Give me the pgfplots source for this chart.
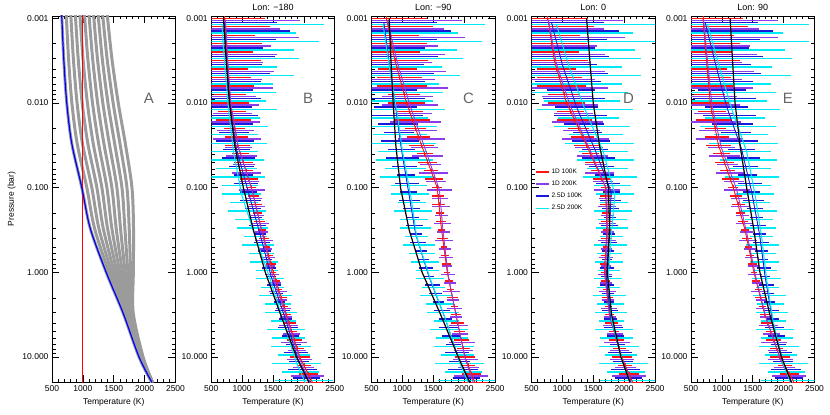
\documentclass[border=0pt]{standalone}
\usepackage{fontspec}
\setmainfont{Liberation Sans}
\usepackage{pgfplots}
\usepackage{pgfplotstable}
\pgfplotsset{compat=1.18}
\definecolor{cR}{RGB}{255,20,20}
\definecolor{cP}{RGB}{140,60,235}
\definecolor{cB}{RGB}{25,25,215}
\definecolor{cC}{RGB}{0,235,245}
\definecolor{gA}{RGB}{155,155,155}

\pgfplotstableread{
p er ep eb ec kB rB pB bB cB kC rC pC bC cC kD rD pD bD cD kE rE pE bE cE
0.001 650 1208 855 1650 698 720 730 710 672 786 743 760 700 689 1392 765 775 824 905 1133 693 705 730 768
0.001259 727 882 1063 1190 707 728 738 718 682 792 770 792 718 709 1403 786 800 859 946 1141 704 718 764 806
0.001585 478 1183 822 1560 716 736 746 726 691 798 798 824 736 729 1413 807 825 894 987 1149 716 731 798 845
0.001995 570 714 606 1140 724 744 754 734 701 803 825 856 754 750 1424 828 850 930 1028 1157 727 744 832 883
0.002512 427 809 798 1210 733 752 762 742 710 809 853 888 772 770 1434 849 875 965 1069 1165 739 757 866 922
0.003162 538 560 567 850 742 760 770 750 720 815 880 920 790 790 1445 870 900 1000 1110 1173 750 770 900 960
0.003981 318 743 698 1116 753 770 780 761 732 822 918 960 810 813 1456 910 944 1046 1161 1181 762 784 936 1000
0.005012 366 533 534 751 763 780 790 772 744 829 955 1000 830 836 1467 949 989 1092 1212 1189 774 798 972 1040
0.006310 401 699 389 792 774 790 800 783 756 837 993 1041 850 859 1478 989 1033 1138 1263 1197 787 812 1008 1080
0.007943 257 411 504 612 784 800 810 794 768 844 1030 1081 870 882 1489 1028 1078 1184 1314 1205 799 826 1044 1120
0.01 297 452 351 780 795 810 820 805 780 851 1068 1121 890 905 1500 1068 1122 1230 1365 1213 811 840 1080 1160
0.01259 225 317 432 487 812 834 844 826 796 860 1117 1169 909 925 1520 1133 1184 1289 1424 1229 838 870 1128 1208
0.01585 288 416 330 613 829 858 868 847 812 868 1165 1217 928 944 1540 1198 1245 1349 1484 1245 865 900 1176 1256
0.01995 168 295 240 435 846 882 892 868 828 877 1214 1264 947 964 1560 1262 1307 1408 1543 1262 891 930 1225 1305
0.02512 190 382 311 559 863 906 916 889 844 885 1262 1312 966 983 1580 1327 1368 1468 1603 1278 918 960 1273 1353
0.03162 204 221 216 399 880 930 940 910 860 894 1311 1360 985 1003 1600 1392 1430 1527 1662 1294 945 990 1321 1401
0.03981 133 252 266 462 908 974 984 948 886 909 1362 1408 1008 1028 1629 1454 1488 1580 1700 1315 993 1040 1353 1428
0.05012 156 176 204 333 936 1018 1028 986 912 924 1412 1456 1031 1054 1658 1515 1546 1632 1737 1337 1041 1090 1385 1455
0.06310 115 230 149 437 964 1062 1072 1024 938 940 1463 1504 1054 1079 1687 1577 1604 1685 1775 1358 1090 1140 1418 1481
0.07943 143 162 193 293 992 1106 1116 1062 964 955 1513 1552 1077 1105 1716 1638 1662 1737 1812 1380 1138 1190 1450 1508
0.1 80 208 135 308 1020 1150 1160 1100 990 970 1564 1600 1100 1130 1745 1700 1720 1790 1850 1401 1186 1240 1482 1535
0.1259 94 128 170 228 1053 1184 1192 1138 1034 998 1578 1612 1123 1150 1749 1704 1722 1784 1838 1425 1224 1272 1508 1557
0.1585 106 149 134 307 1085 1217 1224 1176 1078 1026 1592 1624 1146 1170 1753 1708 1724 1778 1826 1448 1262 1304 1533 1578
0.1995 70 106 101 232 1118 1251 1256 1214 1122 1054 1607 1636 1169 1190 1757 1712 1726 1772 1814 1472 1299 1336 1559 1600
0.2512 84 143 136 255 1150 1284 1288 1252 1166 1082 1621 1648 1192 1210 1761 1716 1728 1766 1802 1495 1337 1368 1584 1621
0.3162 63 104 99 187 1183 1318 1320 1290 1210 1110 1635 1660 1215 1230 1765 1720 1730 1760 1790 1519 1375 1400 1610 1643
0.3981 85 146 128 262 1221 1355 1354 1326 1258 1152 1653 1676 1258 1274 1757 1712 1723 1750 1780 1538 1404 1428 1628 1659
0.5012 53 93 104 203 1260 1393 1388 1362 1307 1194 1672 1692 1301 1318 1750 1704 1716 1740 1770 1558 1433 1456 1646 1675
0.6310 64 111 81 229 1298 1430 1422 1398 1355 1236 1690 1708 1344 1362 1742 1696 1709 1730 1760 1577 1461 1484 1664 1691
0.7943 74 82 113 180 1337 1468 1456 1434 1404 1278 1709 1724 1387 1406 1735 1688 1702 1720 1750 1597 1490 1512 1682 1707
1 51 115 86 231 1375 1505 1490 1470 1452 1320 1727 1740 1430 1450 1727 1680 1695 1710 1740 1616 1519 1540 1700 1723
1.259 69 94 119 184 1425 1548 1535 1516 1495 1380 1755 1767 1483 1502 1741 1696 1710 1725 1752 1648 1554 1574 1723 1744
1.585 59 140 103 266 1475 1591 1580 1562 1538 1440 1783 1794 1536 1554 1755 1712 1725 1740 1764 1680 1590 1608 1746 1766
1.995 86 95 86 217 1524 1634 1625 1608 1581 1500 1811 1821 1589 1606 1769 1728 1740 1755 1776 1713 1625 1642 1769 1787
2.512 58 122 128 257 1574 1677 1670 1654 1624 1560 1839 1848 1642 1658 1783 1744 1755 1770 1788 1745 1661 1676 1792 1809
3.162 75 96 104 204 1624 1720 1715 1700 1667 1620 1867 1875 1695 1710 1797 1760 1770 1785 1800 1777 1696 1710 1815 1830
3.981 103 154 154 310 1675 1763 1758 1743 1710 1677 1896 1904 1741 1754 1827 1800 1809 1823 1837 1815 1744 1757 1849 1862
5.012 82 133 141 262 1726 1806 1801 1786 1753 1734 1925 1933 1787 1799 1857 1840 1848 1861 1874 1852 1793 1804 1883 1894
6.310 119 211 123 323 1778 1849 1844 1829 1796 1791 1955 1962 1833 1843 1888 1880 1887 1899 1911 1890 1841 1851 1917 1927
7.943 107 150 192 265 1829 1892 1887 1872 1839 1848 1984 1991 1879 1888 1918 1920 1926 1937 1948 1927 1890 1898 1951 1959
10 163 200 162 396 1880 1935 1930 1915 1882 1905 2013 2020 1925 1932 1948 1960 1965 1975 1985 1965 1938 1945 1985 1991
12.59 114 170 240 306 1948 2003 1993 1980 1945 1968 2067 2067 1985 1991 1997 2020 2020 2025 2035 2019 2015 2013 2037 2045
15.85 157 273 220 468 2017 2072 2057 2045 2007 2031 2121 2113 2045 2051 2046 2080 2075 2075 2085 2072 2093 2082 2088 2098
19.95 204 234 192 399 2085 2140 2120 2110 2070 2094 2175 2160 2105 2110 2095 2140 2130 2125 2135 2126 2170 2150 2140 2152
}\dat

\pgfplotstableread{
p g0 g1 g2 g3 g4 g5 g6 g7 g8 g9 g10
0.0009 657 731 804 878 952 1026 1099 1173 1247 1320 1394
0.003 690 768 846 924 1002 1080 1158 1236 1314 1392 1470
0.01 739 822 906 989 1073 1156 1239 1323 1406 1490 1573
0.03 820 907 993 1080 1167 1254 1340 1427 1514 1600 1687
0.1 983 1064 1145 1227 1308 1389 1470 1551 1633 1714 1795
0.3 1118 1188 1258 1329 1399 1469 1539 1609 1680 1750 1820
1 1378 1422 1466 1510 1554 1598 1641 1685 1729 1773 1817
3 1650 1667 1683 1700 1716 1733 1749 1766 1782 1799 1815
10 1910 1917 1923 1930 1936 1943 1949 1956 1962 1969 1975
20 2120 2121 2122 2123 2124 2125 2126 2127 2128 2129 2130
}\datA

\pgfplotsset{
  myaxis/.style={
    width=123.5pt, height=366pt, scale only axis, anchor=south west,
    xmin=500, xmax=2500, ymin=0.00094, ymax=19.7, y dir=reverse,
    xtick={500,1000,1500,2000,2500}, xticklabels={500,1000,1500,2000,2500},
    minor x tick num=4,
    ytick={0.001,0.01,0.1,1,10}, yticklabels={0.001,0.010,0.100,1.000,10.000},
    tick align=inside, major tick length=7pt, minor tick length=3.5pt,
    tick style={black, line width=0.6pt},
    axis line style={line width=0.9pt},
    tick label style={font=\fontsize{8.5}{9}\selectfont},
    xlabel={Temperature (K)},
    xlabel style={font=\fontsize{8.5}{9}\selectfont},
    ylabel style={font=\fontsize{8.5}{9}\selectfont},
    title style={font=\fontsize{9}{10}\selectfont, yshift=-4.5pt},
  },
  overlay/.style={
    width=123.5pt, height=366pt, scale only axis, anchor=south west,
    xmin=500, xmax=2500, ymin=0.00094, ymax=19.7, y dir=reverse, hide axis,
  },
  greyline/.style={color=gA, line width=3pt, smooth},
}
\newcommand{\pletter}[1]{\node[font=\fontsize{15}{15}\selectfont, text=black!60] at (axis cs:2070,0.0087) {#1};}
\newcommand{\bars}[4]{%
  \addplot[cC, line width=0.3pt, mark=none, forget plot, error bars/.cd, x dir=both, x explicit, error mark=none, error bar style={cC, line width=1.4pt}] table[x=#4, y expr=\thisrow{p}*1.19, x error=ec]{\dat};
  \addplot[cB, line width=0.3pt, mark=none, forget plot, error bars/.cd, x dir=both, x explicit, error mark=none, error bar style={cB, line width=1.4pt}] table[x=#3, y expr=\thisrow{p}*1.12, x error=eb]{\dat};
  \addplot[cP, line width=0.3pt, mark=none, forget plot, error bars/.cd, x dir=both, x explicit, error mark=none, error bar style={cP, line width=1.4pt}] table[x=#2, y expr=\thisrow{p}*1.06, x error=ep]{\dat};
  \addplot[cR, line width=0.3pt, mark=|, mark size=2.2pt, mark options={line width=0.8pt}, forget plot, error bars/.cd, x dir=both, x explicit, error mark=none, error bar style={cR, line width=1.4pt}] table[x=#1, y=p, x error=er]{\dat};
}
\newcommand{\plines}[5]{%
  \addplot[cR, mark=none, line width=0.8pt] table[x=#2, y=p]{\dat};
  \addplot[cP, mark=none, line width=0.8pt] table[x=#3, y expr=\thisrow{p}*1.06]{\dat};
  \addplot[cB, mark=none, line width=0.8pt] table[x=#4, y expr=\thisrow{p}*1.12]{\dat};
  \addplot[cC, mark=none, line width=1pt] table[x=#5, y expr=\thisrow{p}*1.19]{\dat};
  \addplot[black, mark=none, line width=1.2pt, forget plot] table[x=#1, y=p]{\dat};
}

\begin{document}
\begin{tikzpicture}
\path (0pt,0pt) rectangle (830pt,415pt);

\begin{axis}[ymode=log, myaxis, at={(52pt,33pt)}, ylabel={Pressure (bar)}]
\addplot[greyline] table[x=g10, y=p]{\datA};
\addplot[greyline] table[x=g9, y=p]{\datA};
\addplot[greyline] table[x=g8, y=p]{\datA};
\addplot[greyline] table[x=g7, y=p]{\datA};
\addplot[greyline] table[x=g6, y=p]{\datA};
\addplot[greyline] table[x=g5, y=p]{\datA};
\addplot[greyline] table[x=g4, y=p]{\datA};
\addplot[greyline] table[x=g3, y=p]{\datA};
\addplot[greyline] table[x=g2, y=p]{\datA};
\addplot[greyline] table[x=g1, y=p]{\datA};
\addplot[greyline] table[x=g0, y=p]{\datA};
\addplot[red, line width=1.2pt] coordinates {(1000,0.0009) (1000,20)};
\addplot[blue, line width=1.2pt, smooth] table[x=g0, y=p]{\datA};
\pletter{A}
\end{axis}

\begin{axis}[ymode=log, myaxis, at={(211.25pt,33pt)}, title={Lon: −180}]
\bars{rB}{pB}{bB}{cB}
\pletter{B}
\end{axis}
\begin{axis}[ymode=log, overlay, at={(211.25pt,33pt)}]
\plines{kB}{rB}{pB}{bB}{cB}
\end{axis}

\begin{axis}[ymode=log, myaxis, at={(371.5pt,33pt)}, title={Lon: −90}]
\bars{rC}{pC}{bC}{cC}
\pletter{C}
\end{axis}
\begin{axis}[ymode=log, overlay, at={(371.5pt,33pt)}]
\plines{kC}{rC}{pC}{bC}{cC}
\end{axis}

\begin{axis}[ymode=log, myaxis, at={(531.5pt,33pt)}, title={Lon: 0}]
\bars{rD}{pD}{bD}{cD}
\pletter{D}
\end{axis}
\begin{axis}[ymode=log, overlay, at={(531.5pt,33pt)},
  legend style={draw=none, fill=none, font=\fontsize{6.5}{7}\selectfont, at={(0.03,0.588)}, anchor=north west, row sep=2pt, inner sep=0pt},
  legend cell align=left,
  legend image code/.code={\draw[#1, line width=1.2pt] (0pt,0pt) -- (13pt,0pt);}]
\plines{kD}{rD}{pD}{bD}{cD}
\legend{1D 100K, 1D 200K, 2.5D 100K, 2.5D 200K}
\end{axis}

\begin{axis}[ymode=log, myaxis, at={(691pt,33pt)}, title={Lon: 90}]
\bars{rE}{pE}{bE}{cE}
\pletter{E}
\end{axis}
\begin{axis}[ymode=log, overlay, at={(691pt,33pt)}]
\plines{kE}{rE}{pE}{bE}{cE}
\end{axis}
\end{tikzpicture}
\end{document}
